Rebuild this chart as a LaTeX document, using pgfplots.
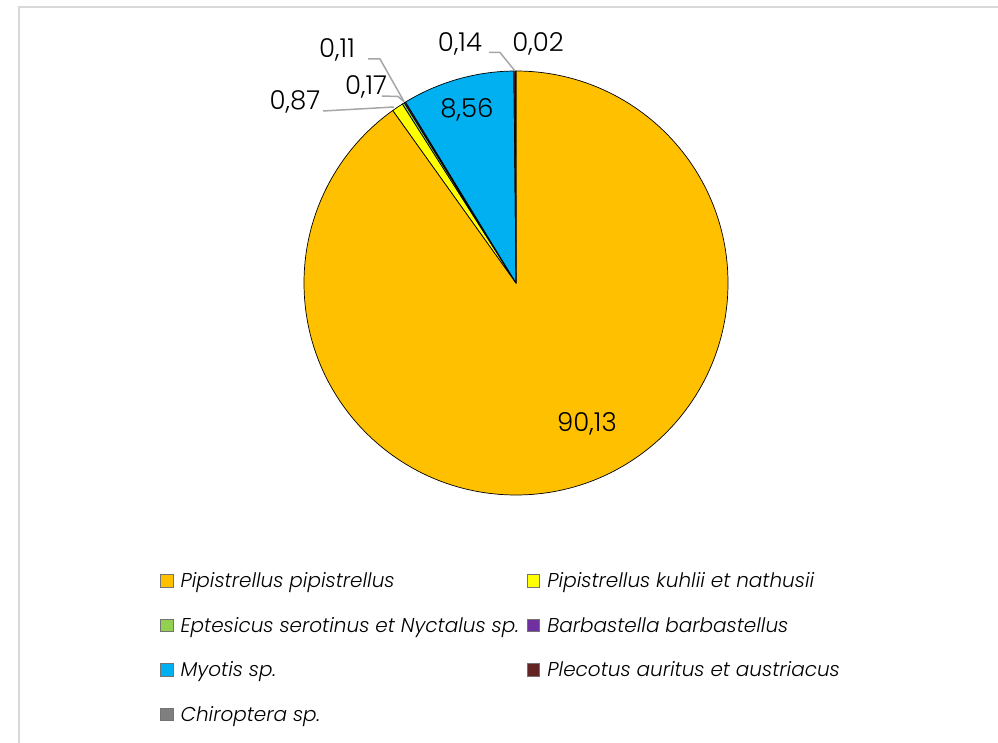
\documentclass[border=0pt]{standalone}
\usepackage{pgfplots}
\usepackage{pgfplotstable}
\pgfplotsset{compat=1.18}
\usepackage{fontspec}
\setmainfont{Poppins}[UprightFont={* Light}, ItalicFont={* Light Italic}]
\definecolor{cOrange}{HTML}{FFC000}
\definecolor{cYellow}{HTML}{FFFF00}
\definecolor{cGreen}{HTML}{92D050}
\definecolor{cPurple}{HTML}{7030A0}
\definecolor{cBlue}{HTML}{00B0F0}
\definecolor{cBrown}{HTML}{632523}
\definecolor{cGray}{HTML}{7F7F7F}
\definecolor{cLead}{HTML}{A6A6A6}
\definecolor{cFrame}{HTML}{D9D9D9}
\pgfplotstableread{
value col
90.13 cOrange
0.87 cYellow
0.17 cGreen
0.11 cPurple
8.56 cBlue
0.14 cBrown
0.02 cGray
}\piedata
\pgfplotsset{sq/.style={legend image code/.code={\filldraw[fill=#1,draw=black!55,line width=0.8pt] (0pt,-6.2pt) rectangle (12.4pt,6.2pt); \path[draw=none,fill=none] (0pt,0pt) -- (18pt,0pt);}}}
\begin{document}
\begin{tikzpicture}
\useasboundingbox (0,0) rectangle (998pt,742pt);
\begin{axis}[
  at={(0,0)}, anchor=south west,
  scale only axis, width=998pt, height=742pt,
  xmin=0, xmax=998, ymin=0, ymax=742,
  hide axis, clip=false,
  legend columns=2,
  legend cell align=left,
  legend style={draw=none, fill=none, at={(axis cs:160,171.5)}, anchor=north west,
    font=\fontsize{20}{23}\selectfont\itshape, row sep=24pt, inner sep=0pt,
    /tikz/every even column/.append style={column sep=6pt}},
]
\draw[cFrame, line width=2pt] (axis cs:19,-5) -- (axis cs:19,735) -- (axis cs:1005,735);
\pgfplotstablegetrowsof{\piedata}
\pgfmathtruncatemacro\nrows{\pgfplotsretval-1}
\def\cum{0}
\pgfplotsforeachungrouped \i in {0,...,\nrows}{%
  \pgfplotstablegetelem{\i}{value}\of\piedata \let\v\pgfplotsretval
  \pgfplotstablegetelem{\i}{col}\of\piedata \let\c\pgfplotsretval
  \pgfmathsetmacro\a{90-3.6*\cum}%
  \pgfmathsetmacro\b{90-3.6*(\cum+\v)}%
  \edef\tmp{\noexpand\filldraw[fill=\c, draw=black, line width=0.7pt, line join=round] (axis cs:516,459) -- ++(\a:212pt) arc[start angle=\a, end angle=\b, radius=212pt] -- cycle;}%
  \tmp
  \pgfmathsetmacro\cum{\cum+\v}%
}
% leader lines
\draw[cLead, line width=1.5pt] (axis cs:323,631) -- (axis cs:394,635);
\draw[cLead, line width=1.5pt] (axis cs:382,646) -- (axis cs:398,645.5) -- (axis cs:404,640.5);
\draw[cLead, line width=1.5pt] (axis cs:368,683) -- (axis cs:380,683) -- (axis cs:404,640.5);
\draw[cLead, line width=1.5pt] (axis cs:489,689.5) -- (axis cs:500,689.5) -- (axis cs:515,671);
% data labels
\begin{scope}[every node/.style={font=\fontsize{26}{30}\selectfont, inner sep=0pt}]
\node at (axis cs:587,318) {90,13};
\node at (axis cs:467,632) {8,56};
\node at (axis cs:295,640) {0,87};
\node at (axis cs:366,655) {0,17};
\node at (axis cs:337,692) {0,11};
\node at (axis cs:460,698) {0,14};
\node at (axis cs:538,698) {0,02};
\end{scope}
\addlegendimage{sq=cOrange}\addlegendentry{Pipistrellus pipistrellus}
\addlegendimage{sq=cYellow}\addlegendentry{Pipistrellus kuhlii et nathusii}
\addlegendimage{sq=cGreen}\addlegendentry{Eptesicus serotinus et Nyctalus sp.}
\addlegendimage{sq=cPurple}\addlegendentry{Barbastella barbastellus}
\addlegendimage{sq=cBlue}\addlegendentry{Myotis sp.}
\addlegendimage{sq=cBrown}\addlegendentry{Plecotus auritus et austriacus}
\addlegendimage{sq=cGray}\addlegendentry{Chiroptera sp.}
\end{axis}
\end{tikzpicture}
\end{document}
